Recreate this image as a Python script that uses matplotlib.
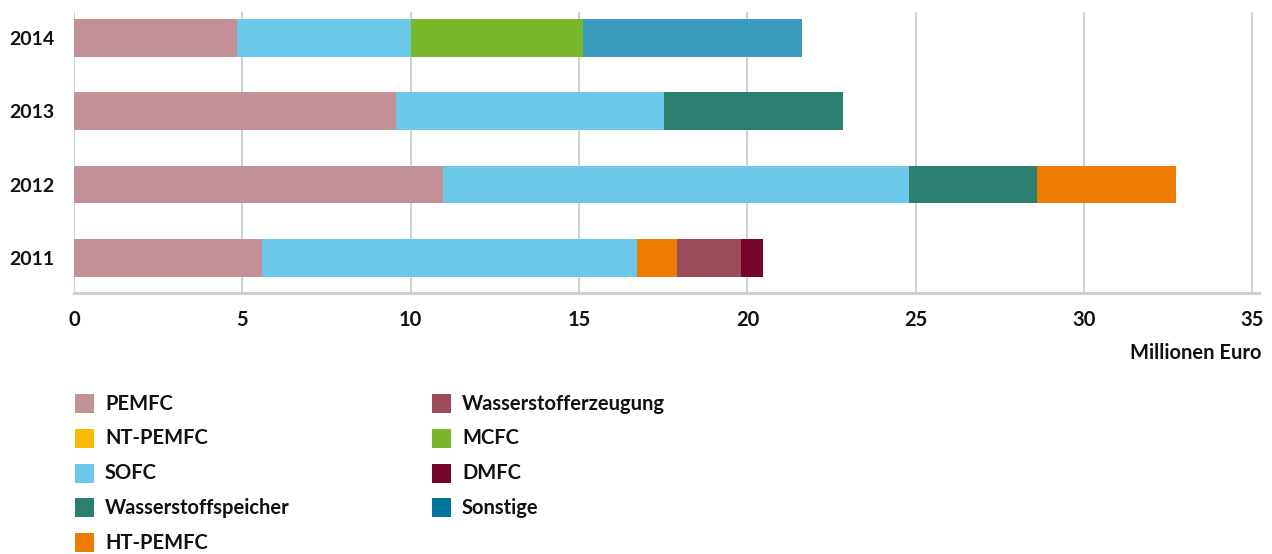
import numpy as np
import matplotlib.pyplot as plt
from matplotlib.patches import Rectangle

plt.rcParams['font.family'] = ['Lato', 'DejaVu Sans']

years = ["2011", "2012", "2013", "2014"]

# Millionen Euro
pemfc = [5.59, 10.96, 9.56, 4.85]
nt_pemfc = [0, 0, 0, 0]
sofc = [11.13, 13.83, 7.97, 5.16]
h2_speicher = [0, 3.80, 5.32, 0]
ht_pemfc = [1.20, 4.14, 0, 0]
h2_erzeugung = [1.88, 0, 0, 0]
mcfc = [0, 0, 0, 5.11]
dmfc = [0.65, 0, 0, 0]
sonstige = [0, 0, 0, 6.49]

labels = ["PEMFC", "NT-PEMFC", "SOFC", "Wasserstoffspeicher", "HT-PEMFC",
          "Wasserstofferzeugung", "MCFC", "DMFC", "Sonstige"]
series = [pemfc, nt_pemfc, sofc, h2_speicher, ht_pemfc,
          h2_erzeugung, mcfc, dmfc, sonstige]
colors = ["#c49198", "#fbb900", "#6cc8e8", "#2c7f6e", "#ee7c00",
          "#9c4b5a", "#78b729", "#76052a", "#3a9bbf"]
legend_colors = colors[:-1] + ["#00759c"]

W, H = 1272, 554
fig = plt.figure(figsize=(W / 100, H / 100), dpi=100)
ax = fig.add_axes([74 / W, 1 - 293.3 / H, (1259.2 - 74) / W, (293.3 - 12) / H])

y = np.arange(len(years))
left = np.zeros(len(years))
for vals, col in zip(series, colors):
    vals = np.array(vals, dtype=float)
    ax.barh(y, vals, left=left, height=0.514, color=col, zorder=3)
    left += vals

ax.set_xlim(0, 35.2)
ax.set_ylim(-0.483, 3.353)
ax.set_xticks(np.arange(0, 36, 5))
ax.set_yticks(y)
ax.set_yticklabels(years)

grid_col = "#c9d2d9"
for xv in np.arange(0, 36, 5):
    ax.axvline(xv, color=grid_col, lw=1.4, zorder=1)

for s in ["top", "right", "left"]:
    ax.spines[s].set_visible(False)
ax.spines["bottom"].set_color(grid_col)
ax.spines["bottom"].set_linewidth(2.2)
ax.spines["bottom"].set_zorder(2)

fs = 14.5
ax.tick_params(axis="both", length=0)
ax.tick_params(axis="x", pad=12, labelsize=fs)
ax.tick_params(axis="y", pad=14, labelsize=14)
for t in ax.get_xticklabels() + ax.get_yticklabels():
    t.set_fontweight("bold")
    t.set_color("#111111")

fig.text(1262 / W, 1 - 359 / H, "Millionen Euro", ha="right", va="baseline",
         fontsize=fs, fontweight="bold", color="#111111")

# legend in two columns, drawn by hand
col_x = [75, 432]
row_top = 394.3
row_step = 34.7
for i, (lab, col) in enumerate(zip(labels, legend_colors)):
    c = 0 if i < 5 else 1
    r = i if i < 5 else i - 5
    top = row_top + r * row_step
    fig.add_artist(Rectangle((col_x[c] / W, 1 - (top + 19) / H), 19 / W, 19 / H,
                             transform=fig.transFigure, color=col, lw=0))
    fig.text((col_x[c] + 30) / W, 1 - (top + 9.5) / H, lab, ha="left", va="center",
             fontsize=fs, fontweight="bold", color="#111111")

fig.savefig("out.png", dpi=100)
